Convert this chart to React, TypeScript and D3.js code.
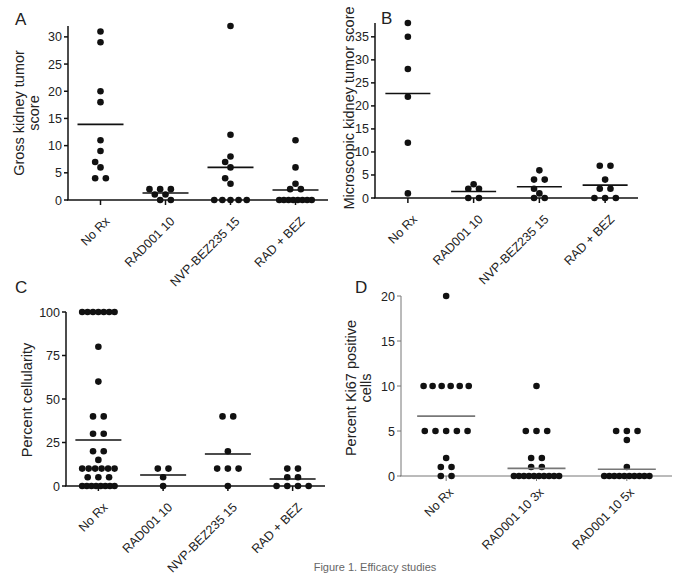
import React from 'react';
import * as d3 from 'd3';

// categories
const catsABC = ['No Rx', 'RAD001 10', 'NVP-BEZ235 15', 'RAD + BEZ'];
const catsD = ['No Rx', 'RAD001 10 3x', 'RAD001 10 5x'];

// A: gross kidney tumor score
const grossNoRx = [31, 29, 20, 18, 11, 9, 7, 6, 4, 4];
const grossRad = [2, 2, 2, 1, 1, 0, 0];
const grossBez = [32, 12, 8, 7, 6, 4, 3, 0, 0, 0, 0, 0];
const grossCombo = [11, 6, 3, 2, 2, 0, 0, 0, 0, 0, 0, 0, 0];
const grossMeans = [13.9, 1.3, 6.0, 1.85];

// B: microscopic kidney tumor score
const microNoRx = [38, 35, 28, 22, 12, 1];
const microRad = [3, 2, 2, 0, 0];
const microBez = [6, 4, 4, 2, 1, 0, 0];
const microCombo = [7, 7, 4, 2, 2, 0, 0, 0];
const microMeans = [22.7, 1.4, 2.45, 2.8];

// C: percent cellularity
const cellNoRx = [100, 100, 100, 100, 100, 100, 100, 80, 60, 40, 40, 30, 30, 20, 20, 15,
  10, 10, 10, 10, 10, 10, 5, 5, 5, 0, 0, 0, 0, 0, 0, 0, 0];
const cellRad = [10, 10, 5, 0];
const cellBez = [40, 40, 20, 10, 10, 10, 0];
const cellCombo = [10, 10, 5, 5, 0, 0, 0, 0];
const cellMeans = [26.4, 6.3, 18.4, 4.0];

// D: percent Ki67 positive cells
const kiNoRx = [20, 10, 10, 10, 10, 10, 10, 5, 5, 5, 5, 5, 2, 1, 1, 0, 0];
const kiRad3x = [10, 5, 5, 5, 2, 2, 1, 1, 0, 0, 0, 0, 0, 0, 0, 0, 0, 0];
const kiRad5x = [5, 5, 5, 4, 1, 0, 0, 0, 0, 0, 0, 0, 0, 0, 0];
const kiMeans = [6.65, 0.85, 0.75];

const yTicksA = [0, 5, 10, 15, 20, 25, 30];
const yTicksB = [0, 5, 10, 15, 20, 25, 30, 35];
const yTicksC = [0, 25, 50, 75, 100];
const yTicksD = [0, 5, 10, 15, 20];

const FONT = '"Liberation Sans", Arial, Helvetica, sans-serif';
const R = 3.3;

type Pt = { x: number; y: number };

// simple dot-plot layout: rows of equal values, nudged sideways when they bump into other rows
function layoutDots(values: number[], cx: number, y: d3.ScaleLinear<number, number>, maxW: number): Pt[] {
  const placed: Pt[] = [];
  const groups = d3.groups(values, v => v).sort((a, b) => a[0] - b[0]);
  const full = 10.7;
  groups.forEach(([v, arr]) => {
    const k = arr.length;
    const sp = k > 1 ? Math.min(full, maxW / (k - 1)) : 0;
    const base = arr.map((_, i) => (i - (k - 1) / 2) * sp);
    const yy = y(v);
    let shift = 0;
    for (let j = 0; j < 12; j++) {
      shift = j === 0 ? 0 : (j % 2 ? -1 : 1) * Math.ceil(j / 2) * full / 2;
      const hit = base.some(b => placed.some(p => Math.hypot(p.x - (cx + b + shift), p.y - yy) < 6.2));
      if (!hit) break;
    }
    base.forEach(b => placed.push({ x: cx + b + shift, y: yy }));
  });
  return placed;
}

type PanelProps = {
  letter: string; letterX: number; letterY: number;
  cats: string[]; series: number[][]; means: number[];
  ymax: number; ticks: number[];
  x0: number; x1: number; y0: number; yTop: number;
  axisColor: string; axisWidth: number; meanW: number;
  catDx: number; catDy: number;
  label: string[]; labelX: number; labelY: number;
};

function Panel(p: PanelProps) {
  const y = d3.scaleLinear().domain([0, p.ymax]).range([p.y0, p.yTop]);
  const x = d3.scaleBand().domain(p.cats).range([p.x0, p.x1]);
  const step = x.step();
  const cx = (c: string) => (x(c) as number) + x.bandwidth() / 2;
  return (
    <g fontFamily={FONT}>
      <text x={p.letterX} y={p.letterY} fontSize={17} fill="#222">{p.letter}</text>
      {/* y axis */}
      <line x1={p.x0} x2={p.x0} y1={p.y0} y2={p.yTop} stroke={p.axisColor} strokeWidth={p.axisWidth} />
      {p.ticks.map(t => (
        <g key={t}>
          <line x1={p.x0 - 4} x2={p.x0} y1={y(t)} y2={y(t)} stroke={p.axisColor} strokeWidth={p.axisWidth} />
          <text x={p.x0 - 6} y={y(t)} dy="0.36em" textAnchor="end" fontSize={12.5} fill="#222">{t}</text>
        </g>
      ))}
      {/* x axis */}
      <line x1={p.x0 - 1} x2={p.x1} y1={p.y0} y2={p.y0} stroke={p.axisColor} strokeWidth={p.axisWidth} />
      {p.cats.map(c => (
        <g key={c}>
          <line x1={cx(c)} x2={cx(c)} y1={p.y0} y2={p.y0 + 5} stroke={p.axisColor} strokeWidth={p.axisWidth} />
          <text transform={`translate(${cx(c) + p.catDx},${p.y0 + p.catDy}) rotate(-45)`} textAnchor="end"
            fontSize={12.5} fill="#222">{c}</text>
        </g>
      ))}
      {/* axis title */}
      <text transform={`translate(${p.labelX},${p.labelY}) rotate(-90)`} textAnchor="middle" fontSize={14.5} fill="#222">
        {p.label.map((l, i) => (
          <tspan key={i} x={0} dy={i === 0 ? 0 : 15}>{l}</tspan>
        ))}
      </text>
      {/* dots */}
      {p.series.map((vals, i) =>
        layoutDots(vals, cx(p.cats[i]), y, step * 0.5).map((d, j) => (
          <circle key={`${i}-${j}`} cx={d.x} cy={d.y} r={R} fill="#111" />
        ))
      )}
      {/* means */}
      {p.means.map((m, i) => (
        <line key={i} x1={cx(p.cats[i]) - p.meanW / 2} x2={cx(p.cats[i]) + p.meanW / 2}
          y1={y(m)} y2={y(m)} stroke={p.axisColor} strokeWidth={1.6} />
      ))}
    </g>
  );
}

export default function App() {
  return (
    <div style={{ position: 'absolute', left: 0, top: 0 }}>
      <svg width={685} height={574} style={{ display: 'block', background: '#fff' }}>
        <Panel letter="A" letterX={15} letterY={25} cats={catsABC}
          series={[grossNoRx, grossRad, grossBez, grossCombo]} means={grossMeans}
          ymax={32} ticks={yTicksA} x0={68} x1={328} y0={200} yTop={26}
          axisColor="#111" axisWidth={1.5} meanW={46} catDx={10} catDy={22}
          label={['Gross kidney tumor', 'score']} labelX={24} labelY={113} />
        <Panel letter="B" letterX={381} letterY={24} cats={catsABC}
          series={[microNoRx, microRad, microBez, microCombo]} means={microMeans}
          ymax={38} ticks={yTicksB} x0={375} x1={638} y0={198} yTop={23}
          axisColor="#111" axisWidth={1.5} meanW={45} catDx={10} catDy={22}
          label={['Microscopic kidney tumor score']} labelX={354} labelY={108} />
        <Panel letter="C" letterX={15} letterY={293} cats={catsABC}
          series={[cellNoRx, cellRad, cellBez, cellCombo]} means={cellMeans}
          ymax={100} ticks={yTicksC} x0={66} x1={325} y0={486} yTop={312}
          axisColor="#111" axisWidth={1.5} meanW={46} catDx={10} catDy={22}
          label={['Percent cellularity']} labelX={32} labelY={400} />
        <Panel letter="D" letterX={355} letterY={293} cats={catsD}
          series={[kiNoRx, kiRad3x, kiRad5x]} means={kiMeans}
          ymax={20} ticks={yTicksD} x0={401} x1={672} y0={476} yTop={296}
          axisColor="#777" axisWidth={1} meanW={58} catDx={8} catDy={17}
          label={['Percent Ki67 positive', 'cells']} labelX={356} labelY={388} />
        <text x={375} y={571} textAnchor="middle" fontFamily={FONT} fontSize={11} fill="#666">
          Figure 1. Efficacy studies
        </text>
      </svg>
    </div>
  );
}
